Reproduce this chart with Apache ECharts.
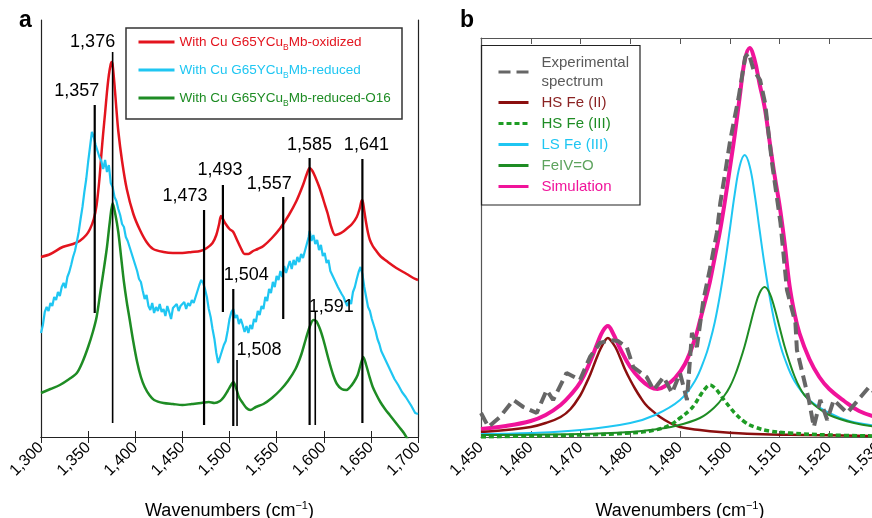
<!DOCTYPE html>
<html><head><meta charset="utf-8">
<script src="https://cdn.jsdelivr.net/npm/echarts@6/dist/echarts.min.js"></script>
<style>html,body{margin:0;padding:0;background:#fff}#c{width:872px;height:518px}</style>
</head><body><div id="c"></div>
<script>
// ---------- Panel a data (x: wavenumber, y: relative height, arbitrary units) ----------
const oxidizedData = [[1300,180],[1310,183],[1323,190],[1334,193],[1341,196],[1348,202],[1352,208],[1356,218],[1359,232],[1362,258],[1364,282],[1366,304],[1368,324],[1370,345],[1372,362],[1374,373],[1375,375],[1376,372],[1378,352],[1380,328],[1382,306],[1386,276],[1391,248],[1398,223],[1405,207],[1412,195],[1419,188],[1430,185],[1440,184],[1450,184],[1460,185],[1469,186],[1476,189],[1482,194],[1486,202],[1489,213],[1491,221],[1493,218],[1496,213],[1500,208],[1504,205],[1508,197],[1512,189],[1516,183],[1520,183],[1525,186],[1530,188],[1536,191],[1545,199],[1554,209],[1563,222],[1571,236],[1578,252],[1582,263],[1585,269],[1588,266],[1591,260],[1596,248],[1600,236],[1604,224],[1608,210],[1612,202],[1616,203],[1620,205],[1624,208],[1630,213],[1635,220],[1638,228],[1640,236],[1641,237],[1643,226],[1645,214],[1647,204],[1649,197],[1652,191],[1655,187],[1660,181],[1668,175],[1677,169],[1688,163],[1695,159],[1700,157]];
const reducedData = [[1300,104],[1302,112],[1304,125],[1306,130],[1308,126],[1310,134],[1312,131],[1314,140],[1316,137],[1318,145],[1320,141],[1322,150],[1324,154],[1326,149],[1328,160],[1330,165],[1332,172],[1334,180],[1336,186],[1338,195],[1340,205],[1342,218],[1344,230],[1346,245],[1348,258],[1350,275],[1352,290],[1354,305],[1356,300],[1358,292],[1360,286],[1362,280],[1364,276],[1366,268],[1368,277],[1370,265],[1372,272],[1374,254],[1376,250],[1378,240],[1380,236],[1382,228],[1384,222],[1386,213],[1388,210],[1390,200],[1392,196],[1394,190],[1396,184],[1398,178],[1400,172],[1402,166],[1404,158],[1406,155],[1408,146],[1410,138],[1412,142],[1414,131],[1416,127],[1418,134],[1420,124],[1422,130],[1424,126],[1426,133],[1428,125],[1430,128],[1432,121],[1434,131],[1436,125],[1438,118],[1440,129],[1442,127],[1444,133],[1446,126],[1448,131],[1450,129],[1452,135],[1454,128],[1456,134],[1458,131],[1460,137],[1462,134],[1464,140],[1466,146],[1468,152],[1470,157],[1472,154],[1474,148],[1476,140],[1478,128],[1480,120],[1482,108],[1484,98],[1486,84],[1488,74],[1490,80],[1492,86],[1494,92],[1496,96],[1498,106],[1500,118],[1502,125],[1504,128],[1506,119],[1508,122],[1510,113],[1512,118],[1514,112],[1516,105],[1518,111],[1520,104],[1522,112],[1524,108],[1526,118],[1528,115],[1530,126],[1532,122],[1534,131],[1536,128],[1538,140],[1540,136],[1542,148],[1544,144],[1546,155],[1548,150],[1550,161],[1552,157],[1554,166],[1556,160],[1558,171],[1560,164],[1562,170],[1564,176],[1566,168],[1568,177],[1570,172],[1572,180],[1574,175],[1576,183],[1578,179],[1580,186],[1582,184],[1584,200],[1585,206],[1587,196],[1589,202],[1591,193],[1593,197],[1595,187],[1597,192],[1599,181],[1601,184],[1603,174],[1605,177],[1607,166],[1609,168],[1611,158],[1613,160],[1615,150],[1617,152],[1619,143],[1621,140],[1623,135],[1625,131],[1627,137],[1629,133],[1631,145],[1633,150],[1635,158],[1637,165],[1639,170],[1641,163],[1643,150],[1645,140],[1647,130],[1649,126],[1651,118],[1653,112],[1655,106],[1657,98],[1659,93],[1661,86],[1663,82],[1665,78],[1667,74],[1669,70],[1671,66],[1673,64],[1675,58],[1677,57],[1679,52],[1681,50],[1683,45],[1685,47],[1687,40],[1689,38],[1691,34],[1693,31],[1695,29],[1697,24],[1699,22],[1700,23]];
const o16Data = [[1300,44],[1310,48],[1320,52],[1330,58],[1338,64],[1344,75],[1350,90],[1355,105],[1359,120],[1363,145],[1367,170],[1370,190],[1373,215],[1376,234],[1379,222],[1382,205],[1385,180],[1388,155],[1391,135],[1394,118],[1398,95],[1402,75],[1406,60],[1410,50],[1415,42],[1420,37],[1430,34],[1440,33],[1450,32],[1460,33],[1470,34],[1478,35],[1484,34],[1490,36],[1494,40],[1498,46],[1501,51],[1504,55],[1507,49],[1510,40],[1514,34],[1518,29],[1522,27],[1528,30],[1536,33],[1545,39],[1554,47],[1562,56],[1570,68],[1576,82],[1581,98],[1585,110],[1589,117],[1592,116],[1596,108],[1600,96],[1605,78],[1610,62],[1614,53],[1619,48],[1624,47],[1628,50],[1632,55],[1636,62],[1639,72],[1642,80],[1645,72],[1648,62],[1652,50],[1656,42],[1660,35],[1665,28],[1670,22],[1675,16],[1680,10],[1685,4],[1690,-4],[1695,-12],[1700,-20]];

// Peak marker lines (panel a)
const peakLabels = ['1,357','1,376','1,473','1,493','1,504','1,508','1,557','1,585','1,591','1,641'];
const peakPos    = [1357, 1376, 1473, 1493, 1504, 1508, 1557, 1585, 1591, 1641];
const peakTop    = [332, 385, 227, 252, 148, 77, 240, 279, 125, 278];
const peakBottom = [124, 14, 12, 125, 11, 11, 118, 12, 12, 14];

// ---------- Panel b data ----------
const experimentalData = [[1450,24],[1451.5,10],[1453.8,20],[1456.5,37],[1458.5,30],[1461.2,24],[1463.2,47],[1464.5,37],[1467.2,64],[1469.9,57],[1471.9,80],[1473.9,94],[1475.9,97],[1477.5,96],[1479.3,90],[1480.6,70],[1483.3,60],[1484.7,47],[1486.7,60],[1488.4,44],[1490,64],[1491.4,37],[1492.4,104],[1493.4,90],[1494.7,137],[1496.1,170],[1497.4,204],[1498.1,234],[1499.2,268],[1500.1,297],[1501.8,340],[1503.1,380],[1503.8,384],[1504.8,367],[1506.1,357],[1507.1,334],[1508.5,274],[1510.2,214],[1511.5,147],[1513.2,114],[1513.5,87],[1515.9,37],[1516.9,10],[1518.2,37],[1519.6,17],[1520.9,37],[1523.6,24],[1526.3,40],[1528,50],[1529,45]];
const hsFe2Data = [[1450,5],[1455,7],[1460,10],[1463,14],[1466,20],[1468,28],[1470,42],[1471,52],[1472,63],[1473,76],[1474,88],[1475,97],[1475.5,99],[1476,97],[1477,90],[1478,79],[1479,67],[1480,57],[1481,48],[1482,40],[1483,33],[1484,28],[1486,20],[1488,14],[1490,10],[1494,7],[1498,5],[1505,3],[1515,2],[1530,1]];
const hsFe3Data = [[1450,0],[1460,1],[1470,2],[1480,4],[1485,7],[1488,12],[1490,19],[1492,27],[1493,33],[1494,41],[1495,48],[1496,52],[1497,49],[1498,43],[1499,36],[1500,30],[1501,24],[1503,15],[1505,10],[1508,6],[1512,4],[1520,2],[1530,1]];
const lsFe3Data = [[1450,3],[1460,4],[1470,7],[1480,14],[1485,22],[1490,37],[1493,56],[1495,79],[1496,95],[1497,115],[1498,141],[1499,172],[1500,207],[1501,243],[1502,271],[1503,282],[1504,271],[1505,243],[1506,207],[1507,172],[1508,141],[1509,115],[1510,95],[1511,79],[1513,56],[1516,37],[1520,24],[1524,16],[1530,11]];
const feivData = [[1450,2],[1470,3],[1480,5],[1484,7],[1489,11],[1494,19],[1497,30],[1499,42],[1500,50],[1501,61],[1502,75],[1503,91],[1504,110],[1505,129],[1506,144],[1507,150],[1508,144],[1509,129],[1510,110],[1511,91],[1512,75],[1513,61],[1514,50],[1515,42],[1517,32],[1520,22],[1525,14],[1530,10]];
const simulationData = [[1450,8],[1455,11],[1460,16],[1463,22],[1466,32],[1468,42],[1470,55],[1472,76],[1473.5,95],[1474.5,106],[1475.5,111],[1476.5,104],[1478,88],[1480,70],[1482,58],[1484,50],[1485.5,48],[1487,51],[1489,59],[1491,73],[1493,98],[1494,116],[1495,135],[1496,155],[1497,180],[1498,205],[1499,235],[1500,268],[1501,302],[1502,340],[1503,376],[1504,389],[1505,377],[1506,353],[1507,330],[1508,296],[1509,262],[1510,232],[1511,195],[1512,152],[1513,124],[1514,104],[1516,78],[1518,60],[1520,48],[1523,36],[1526,26],[1530,19]];

// ---------- styling / layout ----------
const FONT = '"Liberation Sans", Arial, Helvetica, sans-serif';
const labelOffsets = [[-18,-14],[-20,-10],[-19,-14],[-3,-15],[13,-14],[22,-10],[-14,-13],[0,-13],[16,-5],[4,-14]];
const nameA = ['With Cu G65YCuBMb-oxidized','With Cu G65YCuBMb-reduced','With Cu G65YCuBMb-reduced-O16'];
const richKey = {}; richKey[nameA[0]]='r'; richKey[nameA[1]]='c'; richKey[nameA[2]]='g';
const suffix = {}; suffix[nameA[0]]='Mb-oxidized'; suffix[nameA[1]]='Mb-reduced'; suffix[nameA[2]]='Mb-reduced-O16';
const colRed='#e3141e', colCyan='#1fc6f2', colGreen='#1e8c24';

const fmtComma = v => String(v).replace(/(\d)(\d{3})$/, '$1,$2');
const axisName = '{n|Wavenumbers (cm}{s|−1}{n|)}';
const nameRich = {n:{fontSize:18, fontFamily:FONT, color:'#000', lineHeight:22}, s:{fontSize:11, fontFamily:FONT, color:'#000', verticalAlign:'top', lineHeight:12}};

function xBottom(grid, min, max, interval, col){
  return {type:'value', gridIndex:grid, position:'bottom', min, max, interval,
    axisLine:{show:true, lineStyle:{color:col, width:1.2}},
    axisTick:{show:true, inside:true, length:6, lineStyle:{color:col}},
    splitLine:{show:false},
    axisLabel:{rotate:45, fontSize:16, fontFamily:FONT, color:'#000', margin:8, formatter:fmtComma},
    name:axisName, nameLocation:'middle', nameGap:63, nameTextStyle:{rich:nameRich}};
}
function xTop(grid, min, max, interval, col){
  return {type:'value', gridIndex:grid, position:'top', min, max, interval,
    axisLine:{show:true, lineStyle:{color:col, width:1.2}},
    axisTick:{show:true, inside:true, length:6, lineStyle:{color:col}},
    splitLine:{show:false}, axisLabel:{show:false}};
}
function yAx(grid, max, pos, col){
  return {type:'value', gridIndex:grid, position:pos, min:0, max,
    axisLine:{show:true, onZero:false, lineStyle:{color:col, width:1.2}},
    axisTick:{show:false}, axisLabel:{show:false}, splitLine:{show:false}};
}
const subStyle = c => ({fontSize:8.5, fontFamily:FONT, color:c, verticalAlign:'bottom', lineHeight:9, padding:[0,0,-2,0]});

const chart = echarts.init(document.getElementById('c'), null, {renderer:'canvas'});
const option = {
  animation:false,
  backgroundColor:'#fff',
  grid:[
    {left:41, top:20, width:377, height:417, outerBoundsMode:'none', containLabel:false},
    {left:481, top:38, width:398, height:399, outerBoundsMode:'none', containLabel:false}
  ],
  xAxis:[
    xBottom(0,1300,1700,50,'#222'), xTop(0,1300,1700,50,'#222'),
    xBottom(1,1450,1530,10,'#555'), xTop(1,1450,1530,10,'#555')
  ],
  yAxis:[
    yAx(0,417,'left','#222'), yAx(0,417,'right','#222'),
    yAx(1,399,'left','#555')
  ],
  legend:[
    {data:nameA, orient:'vertical', left:137, top:35, itemWidth:36, itemHeight:14, itemGap:11, padding:0,
     selectedMode:false, itemStyle:{opacity:0}, lineStyle:{width:3},
     formatter: n => '{'+richKey[n]+'|With Cu G65YCu}{'+richKey[n]+'s|B}{'+richKey[n]+'|'+suffix[n]+'}',
     textStyle:{rich:{
       r:{fontSize:13.5, fontFamily:FONT, color:colRed, lineHeight:16},
       rs:subStyle(colRed),
       c:{fontSize:13.5, fontFamily:FONT, color:colCyan, lineHeight:16},
       cs:subStyle(colCyan),
       g:{fontSize:13.5, fontFamily:FONT, color:colGreen, lineHeight:16},
       gs:subStyle(colGreen)
     }}},
    {data:[
       {name:'Experimental spectrum', textStyle:{color:'#5a5a5a'}},
       {name:'HS Fe (II)', textStyle:{color:'#8b2323'}},
       {name:'HS Fe (III)', textStyle:{color:'#1e8c24'}},
       {name:'LS Fe (III)', textStyle:{color:'#1fc6f2'}},
       {name:'FeIV=O', textStyle:{color:'#5ea35e'}},
       {name:'Simulation', textStyle:{color:'#f0139a'}}],
     orient:'vertical', left:497, top:53, itemWidth:30, itemHeight:14, itemGap:2, padding:0, selectedMode:false,
     itemStyle:{opacity:0}, lineStyle:{width:3},
     formatter: n => n==='Experimental spectrum' ? 'Experimental\nspectrum' : n,
     textStyle:{fontSize:15, fontFamily:FONT, lineHeight:19, padding:[0,0,0,8]}}
  ],
  graphic:[
    {type:'rect', shape:{x:126, y:28, width:276, height:91}, style:{fill:'none', stroke:'#333', lineWidth:1.5}, z:10},
    {type:'rect', shape:{x:481.5, y:45.5, width:158.5, height:159.5}, style:{fill:'none', stroke:'#222', lineWidth:1.2}, z:10},
    {type:'text', left:19, top:9, style:{text:'a', font:'bold 23px '+FONT, fill:'#000'}},
    {type:'text', left:460, top:9, style:{text:'b', font:'bold 23px '+FONT, fill:'#000'}}
  ],
  series:[
    {name:nameA[0], type:'line', xAxisIndex:0, yAxisIndex:0, data:oxidizedData, symbol:'none', smooth:0.3, lineStyle:{color:colRed, width:2.5}, itemStyle:{color:colRed}},
    {name:nameA[1], type:'line', xAxisIndex:0, yAxisIndex:0, data:reducedData, symbol:'none', lineStyle:{color:colCyan, width:2.2}, itemStyle:{color:colCyan}},
    {name:nameA[2], type:'line', xAxisIndex:0, yAxisIndex:0, data:o16Data, symbol:'none', smooth:0.3, lineStyle:{color:colGreen, width:2.5}, itemStyle:{color:colGreen}},
    {type:'custom', xAxisIndex:0, yAxisIndex:0, z:5,
     data: peakPos.map((p,i)=>[p, peakTop[i], peakBottom[i], i]),
     renderItem:(params, api)=>{
       const i = api.value(3);
       const t = api.coord([api.value(0), api.value(1)]);
       const b = api.coord([api.value(0), api.value(2)]);
       const o = labelOffsets[i];
       return {type:'group', children:[
         {type:'line', shape:{x1:t[0], y1:t[1], x2:b[0], y2:b[1]}, style:{stroke:'#000', lineWidth:(i===5||i===8||i===1)?1.6:2.2}},
         {type:'text', x:t[0]+o[0], y:t[1]+o[1], style:{text:peakLabels[i], font:'18px '+FONT, fill:'#000', align:'center', verticalAlign:'middle'}}
       ]};
     }},
    {name:'Simulation', type:'line', xAxisIndex:2, yAxisIndex:2, data:simulationData, symbol:'none', smooth:0.4, lineStyle:{color:'#f0139a', width:4}, itemStyle:{color:'#f0139a'}, z:2},
    {name:'HS Fe (II)', type:'line', xAxisIndex:2, yAxisIndex:2, data:hsFe2Data, symbol:'none', smooth:0.4, lineStyle:{color:'#8b0f0f', width:2.5}, itemStyle:{color:'#8b0f0f'}, z:3},
    {name:'HS Fe (III)', type:'line', xAxisIndex:2, yAxisIndex:2, data:hsFe3Data, symbol:'none', smooth:0.4, lineStyle:{color:'#1e9c24', width:3.5, type:[5,3]}, itemStyle:{color:'#1e9c24'}, z:3},
    {name:'LS Fe (III)', type:'line', xAxisIndex:2, yAxisIndex:2, data:lsFe3Data, symbol:'none', smooth:0.4, lineStyle:{color:'#1fc6f2', width:2}, itemStyle:{color:'#1fc6f2'}, z:3},
    {name:'FeIV=O', type:'line', xAxisIndex:2, yAxisIndex:2, data:feivData, symbol:'none', smooth:0.4, lineStyle:{color:'#1e8c24', width:2}, itemStyle:{color:'#1e8c24'}, z:3},
    {name:'Experimental spectrum', type:'line', xAxisIndex:2, yAxisIndex:2, data:experimentalData, symbol:'none', lineStyle:{color:'#666', width:4, type:[12,6]}, itemStyle:{color:'#666'}, z:4}
  ]
};
chart.setOption(option);
</script>
</body></html>
